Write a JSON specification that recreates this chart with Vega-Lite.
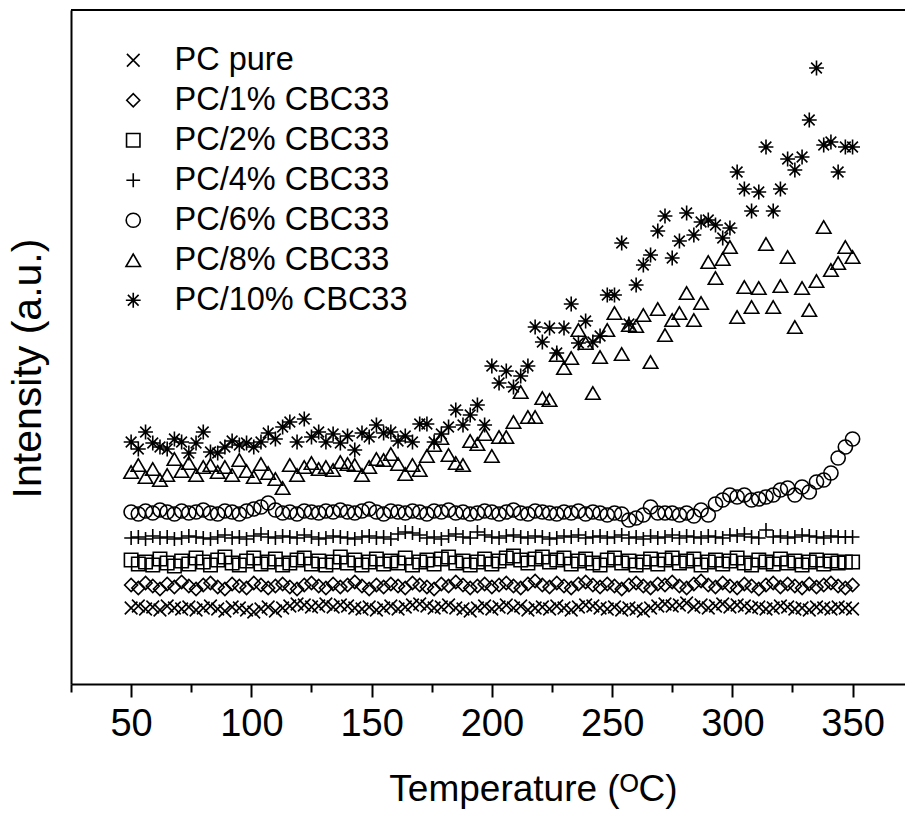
{
"$schema": "https://vega.github.io/schema/vega-lite/v6.json",
"width": 834, "height": 674,
"autosize": {"type": "none"},
"padding": {"left": 71, "top": 10, "right": 0, "bottom": 141},
"background": "white",
"config": {"view": {"stroke": null}, "font": "Liberation Sans"},
"datasets": {
"pts": [
{"s":"PC pure","T":50,"y":76},{"s":"PC pure","T":53,"y":78},{"s":"PC pure","T":56,"y":75},{"s":"PC pure","T":59,"y":77},{"s":"PC pure","T":62,"y":74},{"s":"PC pure","T":65,"y":78},{"s":"PC pure","T":68,"y":76},{"s":"PC pure","T":71,"y":75},{"s":"PC pure","T":74,"y":77},{"s":"PC pure","T":77,"y":74},{"s":"PC pure","T":80,"y":76},{"s":"PC pure","T":83,"y":78},{"s":"PC pure","T":86,"y":75},{"s":"PC pure","T":89,"y":73},{"s":"PC pure","T":92,"y":77},{"s":"PC pure","T":95,"y":76},{"s":"PC pure","T":98,"y":74},{"s":"PC pure","T":101,"y":72},{"s":"PC pure","T":104,"y":75},{"s":"PC pure","T":107,"y":77},{"s":"PC pure","T":110,"y":73},{"s":"PC pure","T":113,"y":76},{"s":"PC pure","T":116,"y":78},{"s":"PC pure","T":119,"y":80},{"s":"PC pure","T":122,"y":79},{"s":"PC pure","T":125,"y":77},{"s":"PC pure","T":128,"y":78},{"s":"PC pure","T":131,"y":80},{"s":"PC pure","T":134,"y":77},{"s":"PC pure","T":137,"y":79},{"s":"PC pure","T":140,"y":78},{"s":"PC pure","T":143,"y":76},{"s":"PC pure","T":146,"y":75},{"s":"PC pure","T":149,"y":77},{"s":"PC pure","T":152,"y":74},{"s":"PC pure","T":155,"y":76},{"s":"PC pure","T":158,"y":78},{"s":"PC pure","T":161,"y":75},{"s":"PC pure","T":164,"y":77},{"s":"PC pure","T":167,"y":79},{"s":"PC pure","T":170,"y":80},{"s":"PC pure","T":173,"y":78},{"s":"PC pure","T":176,"y":76},{"s":"PC pure","T":179,"y":77},{"s":"PC pure","T":182,"y":79},{"s":"PC pure","T":185,"y":76},{"s":"PC pure","T":188,"y":75},{"s":"PC pure","T":191,"y":73},{"s":"PC pure","T":194,"y":76},{"s":"PC pure","T":197,"y":78},{"s":"PC pure","T":200,"y":75},{"s":"PC pure","T":203,"y":77},{"s":"PC pure","T":206,"y":79},{"s":"PC pure","T":209,"y":76},{"s":"PC pure","T":212,"y":78},{"s":"PC pure","T":215,"y":74},{"s":"PC pure","T":218,"y":76},{"s":"PC pure","T":221,"y":77},{"s":"PC pure","T":224,"y":75},{"s":"PC pure","T":227,"y":78},{"s":"PC pure","T":230,"y":76},{"s":"PC pure","T":233,"y":74},{"s":"PC pure","T":236,"y":77},{"s":"PC pure","T":239,"y":79},{"s":"PC pure","T":242,"y":78},{"s":"PC pure","T":245,"y":76},{"s":"PC pure","T":248,"y":75},{"s":"PC pure","T":251,"y":77},{"s":"PC pure","T":254,"y":74},{"s":"PC pure","T":257,"y":76},{"s":"PC pure","T":260,"y":75},{"s":"PC pure","T":263,"y":73},{"s":"PC pure","T":266,"y":76},{"s":"PC pure","T":269,"y":78},{"s":"PC pure","T":272,"y":80},{"s":"PC pure","T":275,"y":78},{"s":"PC pure","T":278,"y":79},{"s":"PC pure","T":281,"y":81},{"s":"PC pure","T":284,"y":77},{"s":"PC pure","T":287,"y":79},{"s":"PC pure","T":290,"y":76},{"s":"PC pure","T":293,"y":78},{"s":"PC pure","T":296,"y":80},{"s":"PC pure","T":299,"y":77},{"s":"PC pure","T":302,"y":79},{"s":"PC pure","T":305,"y":78},{"s":"PC pure","T":308,"y":76},{"s":"PC pure","T":311,"y":77},{"s":"PC pure","T":314,"y":75},{"s":"PC pure","T":317,"y":76},{"s":"PC pure","T":320,"y":78},{"s":"PC pure","T":323,"y":77},{"s":"PC pure","T":326,"y":75},{"s":"PC pure","T":329,"y":76},{"s":"PC pure","T":332,"y":74},{"s":"PC pure","T":335,"y":77},{"s":"PC pure","T":338,"y":76},{"s":"PC pure","T":341,"y":75},{"s":"PC pure","T":344,"y":77},{"s":"PC pure","T":347,"y":76},{"s":"PC pure","T":350,"y":75},
{"s":"PC/1% CBC33","T":50,"y":99},{"s":"PC/1% CBC33","T":53,"y":96},{"s":"PC/1% CBC33","T":56,"y":101},{"s":"PC/1% CBC33","T":59,"y":98},{"s":"PC/1% CBC33","T":62,"y":95},{"s":"PC/1% CBC33","T":65,"y":100},{"s":"PC/1% CBC33","T":68,"y":97},{"s":"PC/1% CBC33","T":71,"y":102},{"s":"PC/1% CBC33","T":74,"y":98},{"s":"PC/1% CBC33","T":77,"y":95},{"s":"PC/1% CBC33","T":80,"y":99},{"s":"PC/1% CBC33","T":83,"y":101},{"s":"PC/1% CBC33","T":86,"y":97},{"s":"PC/1% CBC33","T":89,"y":95},{"s":"PC/1% CBC33","T":92,"y":100},{"s":"PC/1% CBC33","T":95,"y":98},{"s":"PC/1% CBC33","T":98,"y":96},{"s":"PC/1% CBC33","T":101,"y":101},{"s":"PC/1% CBC33","T":104,"y":99},{"s":"PC/1% CBC33","T":107,"y":96},{"s":"PC/1% CBC33","T":110,"y":98},{"s":"PC/1% CBC33","T":113,"y":100},{"s":"PC/1% CBC33","T":116,"y":97},{"s":"PC/1% CBC33","T":119,"y":95},{"s":"PC/1% CBC33","T":122,"y":99},{"s":"PC/1% CBC33","T":125,"y":101},{"s":"PC/1% CBC33","T":128,"y":98},{"s":"PC/1% CBC33","T":131,"y":96},{"s":"PC/1% CBC33","T":134,"y":100},{"s":"PC/1% CBC33","T":137,"y":97},{"s":"PC/1% CBC33","T":140,"y":99},{"s":"PC/1% CBC33","T":143,"y":102},{"s":"PC/1% CBC33","T":146,"y":98},{"s":"PC/1% CBC33","T":149,"y":95},{"s":"PC/1% CBC33","T":152,"y":99},{"s":"PC/1% CBC33","T":155,"y":97},{"s":"PC/1% CBC33","T":158,"y":100},{"s":"PC/1% CBC33","T":161,"y":98},{"s":"PC/1% CBC33","T":164,"y":96},{"s":"PC/1% CBC33","T":167,"y":101},{"s":"PC/1% CBC33","T":170,"y":99},{"s":"PC/1% CBC33","T":173,"y":97},{"s":"PC/1% CBC33","T":176,"y":95},{"s":"PC/1% CBC33","T":179,"y":100},{"s":"PC/1% CBC33","T":182,"y":98},{"s":"PC/1% CBC33","T":185,"y":102},{"s":"PC/1% CBC33","T":188,"y":99},{"s":"PC/1% CBC33","T":191,"y":96},{"s":"PC/1% CBC33","T":194,"y":98},{"s":"PC/1% CBC33","T":197,"y":100},{"s":"PC/1% CBC33","T":200,"y":97},{"s":"PC/1% CBC33","T":203,"y":99},{"s":"PC/1% CBC33","T":206,"y":101},{"s":"PC/1% CBC33","T":209,"y":98},{"s":"PC/1% CBC33","T":212,"y":96},{"s":"PC/1% CBC33","T":215,"y":100},{"s":"PC/1% CBC33","T":218,"y":103},{"s":"PC/1% CBC33","T":221,"y":99},{"s":"PC/1% CBC33","T":224,"y":97},{"s":"PC/1% CBC33","T":227,"y":101},{"s":"PC/1% CBC33","T":230,"y":98},{"s":"PC/1% CBC33","T":233,"y":96},{"s":"PC/1% CBC33","T":236,"y":100},{"s":"PC/1% CBC33","T":239,"y":102},{"s":"PC/1% CBC33","T":242,"y":99},{"s":"PC/1% CBC33","T":245,"y":97},{"s":"PC/1% CBC33","T":248,"y":100},{"s":"PC/1% CBC33","T":251,"y":98},{"s":"PC/1% CBC33","T":254,"y":95},{"s":"PC/1% CBC33","T":257,"y":99},{"s":"PC/1% CBC33","T":260,"y":101},{"s":"PC/1% CBC33","T":263,"y":98},{"s":"PC/1% CBC33","T":266,"y":96},{"s":"PC/1% CBC33","T":269,"y":100},{"s":"PC/1% CBC33","T":272,"y":99},{"s":"PC/1% CBC33","T":275,"y":102},{"s":"PC/1% CBC33","T":278,"y":98},{"s":"PC/1% CBC33","T":281,"y":96},{"s":"PC/1% CBC33","T":284,"y":100},{"s":"PC/1% CBC33","T":287,"y":103},{"s":"PC/1% CBC33","T":290,"y":99},{"s":"PC/1% CBC33","T":293,"y":97},{"s":"PC/1% CBC33","T":296,"y":101},{"s":"PC/1% CBC33","T":299,"y":98},{"s":"PC/1% CBC33","T":302,"y":96},{"s":"PC/1% CBC33","T":305,"y":100},{"s":"PC/1% CBC33","T":308,"y":98},{"s":"PC/1% CBC33","T":311,"y":95},{"s":"PC/1% CBC33","T":314,"y":99},{"s":"PC/1% CBC33","T":317,"y":101},{"s":"PC/1% CBC33","T":320,"y":97},{"s":"PC/1% CBC33","T":323,"y":100},{"s":"PC/1% CBC33","T":326,"y":98},{"s":"PC/1% CBC33","T":329,"y":96},{"s":"PC/1% CBC33","T":332,"y":100},{"s":"PC/1% CBC33","T":335,"y":97},{"s":"PC/1% CBC33","T":338,"y":99},{"s":"PC/1% CBC33","T":341,"y":101},{"s":"PC/1% CBC33","T":344,"y":98},{"s":"PC/1% CBC33","T":347,"y":96},{"s":"PC/1% CBC33","T":350,"y":99},
{"s":"PC/2% CBC33","T":50,"y":124},{"s":"PC/2% CBC33","T":53,"y":120},{"s":"PC/2% CBC33","T":56,"y":122},{"s":"PC/2% CBC33","T":59,"y":119},{"s":"PC/2% CBC33","T":62,"y":125},{"s":"PC/2% CBC33","T":65,"y":121},{"s":"PC/2% CBC33","T":68,"y":118},{"s":"PC/2% CBC33","T":71,"y":123},{"s":"PC/2% CBC33","T":74,"y":120},{"s":"PC/2% CBC33","T":77,"y":126},{"s":"PC/2% CBC33","T":80,"y":122},{"s":"PC/2% CBC33","T":83,"y":119},{"s":"PC/2% CBC33","T":86,"y":124},{"s":"PC/2% CBC33","T":89,"y":127},{"s":"PC/2% CBC33","T":92,"y":121},{"s":"PC/2% CBC33","T":95,"y":119},{"s":"PC/2% CBC33","T":98,"y":123},{"s":"PC/2% CBC33","T":101,"y":126},{"s":"PC/2% CBC33","T":104,"y":120},{"s":"PC/2% CBC33","T":107,"y":122},{"s":"PC/2% CBC33","T":110,"y":125},{"s":"PC/2% CBC33","T":113,"y":119},{"s":"PC/2% CBC33","T":116,"y":121},{"s":"PC/2% CBC33","T":119,"y":124},{"s":"PC/2% CBC33","T":122,"y":126},{"s":"PC/2% CBC33","T":125,"y":120},{"s":"PC/2% CBC33","T":128,"y":123},{"s":"PC/2% CBC33","T":131,"y":119},{"s":"PC/2% CBC33","T":134,"y":122},{"s":"PC/2% CBC33","T":137,"y":127},{"s":"PC/2% CBC33","T":140,"y":121},{"s":"PC/2% CBC33","T":143,"y":124},{"s":"PC/2% CBC33","T":146,"y":119},{"s":"PC/2% CBC33","T":149,"y":122},{"s":"PC/2% CBC33","T":152,"y":125},{"s":"PC/2% CBC33","T":155,"y":120},{"s":"PC/2% CBC33","T":158,"y":123},{"s":"PC/2% CBC33","T":161,"y":121},{"s":"PC/2% CBC33","T":164,"y":126},{"s":"PC/2% CBC33","T":167,"y":119},{"s":"PC/2% CBC33","T":170,"y":122},{"s":"PC/2% CBC33","T":173,"y":124},{"s":"PC/2% CBC33","T":176,"y":120},{"s":"PC/2% CBC33","T":179,"y":125},{"s":"PC/2% CBC33","T":182,"y":127},{"s":"PC/2% CBC33","T":185,"y":121},{"s":"PC/2% CBC33","T":188,"y":123},{"s":"PC/2% CBC33","T":191,"y":119},{"s":"PC/2% CBC33","T":194,"y":122},{"s":"PC/2% CBC33","T":197,"y":125},{"s":"PC/2% CBC33","T":200,"y":120},{"s":"PC/2% CBC33","T":203,"y":123},{"s":"PC/2% CBC33","T":206,"y":126},{"s":"PC/2% CBC33","T":209,"y":128},{"s":"PC/2% CBC33","T":212,"y":124},{"s":"PC/2% CBC33","T":215,"y":121},{"s":"PC/2% CBC33","T":218,"y":125},{"s":"PC/2% CBC33","T":221,"y":127},{"s":"PC/2% CBC33","T":224,"y":122},{"s":"PC/2% CBC33","T":227,"y":124},{"s":"PC/2% CBC33","T":230,"y":126},{"s":"PC/2% CBC33","T":233,"y":120},{"s":"PC/2% CBC33","T":236,"y":123},{"s":"PC/2% CBC33","T":239,"y":125},{"s":"PC/2% CBC33","T":242,"y":121},{"s":"PC/2% CBC33","T":245,"y":119},{"s":"PC/2% CBC33","T":248,"y":124},{"s":"PC/2% CBC33","T":251,"y":126},{"s":"PC/2% CBC33","T":254,"y":121},{"s":"PC/2% CBC33","T":257,"y":123},{"s":"PC/2% CBC33","T":260,"y":119},{"s":"PC/2% CBC33","T":263,"y":122},{"s":"PC/2% CBC33","T":266,"y":125},{"s":"PC/2% CBC33","T":269,"y":120},{"s":"PC/2% CBC33","T":272,"y":124},{"s":"PC/2% CBC33","T":275,"y":126},{"s":"PC/2% CBC33","T":278,"y":121},{"s":"PC/2% CBC33","T":281,"y":123},{"s":"PC/2% CBC33","T":284,"y":125},{"s":"PC/2% CBC33","T":287,"y":119},{"s":"PC/2% CBC33","T":290,"y":122},{"s":"PC/2% CBC33","T":293,"y":124},{"s":"PC/2% CBC33","T":296,"y":120},{"s":"PC/2% CBC33","T":299,"y":123},{"s":"PC/2% CBC33","T":302,"y":126},{"s":"PC/2% CBC33","T":305,"y":121},{"s":"PC/2% CBC33","T":308,"y":119},{"s":"PC/2% CBC33","T":311,"y":124},{"s":"PC/2% CBC33","T":314,"y":122},{"s":"PC/2% CBC33","T":317,"y":120},{"s":"PC/2% CBC33","T":320,"y":125},{"s":"PC/2% CBC33","T":323,"y":121},{"s":"PC/2% CBC33","T":326,"y":123},{"s":"PC/2% CBC33","T":329,"y":119},{"s":"PC/2% CBC33","T":332,"y":122},{"s":"PC/2% CBC33","T":335,"y":124},{"s":"PC/2% CBC33","T":338,"y":120},{"s":"PC/2% CBC33","T":341,"y":123},{"s":"PC/2% CBC33","T":344,"y":121},{"s":"PC/2% CBC33","T":347,"y":122},{"s":"PC/2% CBC33","T":350,"y":122},
{"s":"PC/4% CBC33","T":50,"y":146},{"s":"PC/4% CBC33","T":53,"y":147},{"s":"PC/4% CBC33","T":56,"y":145},{"s":"PC/4% CBC33","T":59,"y":148},{"s":"PC/4% CBC33","T":62,"y":146},{"s":"PC/4% CBC33","T":65,"y":147},{"s":"PC/4% CBC33","T":68,"y":145},{"s":"PC/4% CBC33","T":71,"y":146},{"s":"PC/4% CBC33","T":74,"y":148},{"s":"PC/4% CBC33","T":77,"y":147},{"s":"PC/4% CBC33","T":80,"y":146},{"s":"PC/4% CBC33","T":83,"y":145},{"s":"PC/4% CBC33","T":86,"y":147},{"s":"PC/4% CBC33","T":89,"y":149},{"s":"PC/4% CBC33","T":92,"y":146},{"s":"PC/4% CBC33","T":95,"y":147},{"s":"PC/4% CBC33","T":98,"y":145},{"s":"PC/4% CBC33","T":101,"y":148},{"s":"PC/4% CBC33","T":104,"y":150},{"s":"PC/4% CBC33","T":107,"y":147},{"s":"PC/4% CBC33","T":110,"y":146},{"s":"PC/4% CBC33","T":113,"y":148},{"s":"PC/4% CBC33","T":116,"y":147},{"s":"PC/4% CBC33","T":119,"y":146},{"s":"PC/4% CBC33","T":122,"y":149},{"s":"PC/4% CBC33","T":125,"y":147},{"s":"PC/4% CBC33","T":128,"y":145},{"s":"PC/4% CBC33","T":131,"y":146},{"s":"PC/4% CBC33","T":134,"y":148},{"s":"PC/4% CBC33","T":137,"y":147},{"s":"PC/4% CBC33","T":140,"y":146},{"s":"PC/4% CBC33","T":143,"y":145},{"s":"PC/4% CBC33","T":146,"y":147},{"s":"PC/4% CBC33","T":149,"y":148},{"s":"PC/4% CBC33","T":152,"y":146},{"s":"PC/4% CBC33","T":155,"y":147},{"s":"PC/4% CBC33","T":158,"y":145},{"s":"PC/4% CBC33","T":161,"y":150},{"s":"PC/4% CBC33","T":164,"y":152},{"s":"PC/4% CBC33","T":167,"y":151},{"s":"PC/4% CBC33","T":170,"y":149},{"s":"PC/4% CBC33","T":173,"y":146},{"s":"PC/4% CBC33","T":176,"y":147},{"s":"PC/4% CBC33","T":179,"y":145},{"s":"PC/4% CBC33","T":182,"y":148},{"s":"PC/4% CBC33","T":185,"y":150},{"s":"PC/4% CBC33","T":188,"y":147},{"s":"PC/4% CBC33","T":191,"y":146},{"s":"PC/4% CBC33","T":194,"y":152},{"s":"PC/4% CBC33","T":197,"y":149},{"s":"PC/4% CBC33","T":200,"y":147},{"s":"PC/4% CBC33","T":203,"y":146},{"s":"PC/4% CBC33","T":206,"y":148},{"s":"PC/4% CBC33","T":209,"y":149},{"s":"PC/4% CBC33","T":212,"y":147},{"s":"PC/4% CBC33","T":215,"y":146},{"s":"PC/4% CBC33","T":218,"y":148},{"s":"PC/4% CBC33","T":221,"y":147},{"s":"PC/4% CBC33","T":224,"y":145},{"s":"PC/4% CBC33","T":227,"y":146},{"s":"PC/4% CBC33","T":230,"y":148},{"s":"PC/4% CBC33","T":233,"y":147},{"s":"PC/4% CBC33","T":236,"y":149},{"s":"PC/4% CBC33","T":239,"y":146},{"s":"PC/4% CBC33","T":242,"y":147},{"s":"PC/4% CBC33","T":245,"y":148},{"s":"PC/4% CBC33","T":248,"y":146},{"s":"PC/4% CBC33","T":251,"y":147},{"s":"PC/4% CBC33","T":254,"y":149},{"s":"PC/4% CBC33","T":257,"y":146},{"s":"PC/4% CBC33","T":260,"y":147},{"s":"PC/4% CBC33","T":263,"y":145},{"s":"PC/4% CBC33","T":266,"y":148},{"s":"PC/4% CBC33","T":269,"y":146},{"s":"PC/4% CBC33","T":272,"y":147},{"s":"PC/4% CBC33","T":275,"y":149},{"s":"PC/4% CBC33","T":278,"y":146},{"s":"PC/4% CBC33","T":281,"y":148},{"s":"PC/4% CBC33","T":284,"y":147},{"s":"PC/4% CBC33","T":287,"y":146},{"s":"PC/4% CBC33","T":290,"y":148},{"s":"PC/4% CBC33","T":293,"y":147},{"s":"PC/4% CBC33","T":296,"y":146},{"s":"PC/4% CBC33","T":299,"y":149},{"s":"PC/4% CBC33","T":302,"y":148},{"s":"PC/4% CBC33","T":305,"y":150},{"s":"PC/4% CBC33","T":308,"y":147},{"s":"PC/4% CBC33","T":311,"y":146},{"s":"PC/4% CBC33","T":314,"y":154},{"s":"PC/4% CBC33","T":317,"y":147},{"s":"PC/4% CBC33","T":320,"y":148},{"s":"PC/4% CBC33","T":323,"y":146},{"s":"PC/4% CBC33","T":326,"y":147},{"s":"PC/4% CBC33","T":329,"y":149},{"s":"PC/4% CBC33","T":332,"y":148},{"s":"PC/4% CBC33","T":335,"y":147},{"s":"PC/4% CBC33","T":338,"y":146},{"s":"PC/4% CBC33","T":341,"y":148},{"s":"PC/4% CBC33","T":344,"y":147},{"s":"PC/4% CBC33","T":347,"y":147},{"s":"PC/4% CBC33","T":350,"y":147},
{"s":"PC/6% CBC33","T":50,"y":172},{"s":"PC/6% CBC33","T":53,"y":170},{"s":"PC/6% CBC33","T":56,"y":173},{"s":"PC/6% CBC33","T":59,"y":171},{"s":"PC/6% CBC33","T":62,"y":174},{"s":"PC/6% CBC33","T":65,"y":172},{"s":"PC/6% CBC33","T":68,"y":170},{"s":"PC/6% CBC33","T":71,"y":173},{"s":"PC/6% CBC33","T":74,"y":171},{"s":"PC/6% CBC33","T":77,"y":172},{"s":"PC/6% CBC33","T":80,"y":174},{"s":"PC/6% CBC33","T":83,"y":171},{"s":"PC/6% CBC33","T":86,"y":170},{"s":"PC/6% CBC33","T":89,"y":173},{"s":"PC/6% CBC33","T":92,"y":172},{"s":"PC/6% CBC33","T":95,"y":170},{"s":"PC/6% CBC33","T":98,"y":173},{"s":"PC/6% CBC33","T":101,"y":175},{"s":"PC/6% CBC33","T":104,"y":177},{"s":"PC/6% CBC33","T":107,"y":181},{"s":"PC/6% CBC33","T":110,"y":174},{"s":"PC/6% CBC33","T":113,"y":171},{"s":"PC/6% CBC33","T":116,"y":172},{"s":"PC/6% CBC33","T":119,"y":170},{"s":"PC/6% CBC33","T":122,"y":173},{"s":"PC/6% CBC33","T":125,"y":172},{"s":"PC/6% CBC33","T":128,"y":171},{"s":"PC/6% CBC33","T":131,"y":173},{"s":"PC/6% CBC33","T":134,"y":172},{"s":"PC/6% CBC33","T":137,"y":174},{"s":"PC/6% CBC33","T":140,"y":172},{"s":"PC/6% CBC33","T":143,"y":171},{"s":"PC/6% CBC33","T":146,"y":173},{"s":"PC/6% CBC33","T":149,"y":175},{"s":"PC/6% CBC33","T":152,"y":172},{"s":"PC/6% CBC33","T":155,"y":170},{"s":"PC/6% CBC33","T":158,"y":173},{"s":"PC/6% CBC33","T":161,"y":172},{"s":"PC/6% CBC33","T":164,"y":171},{"s":"PC/6% CBC33","T":167,"y":173},{"s":"PC/6% CBC33","T":170,"y":172},{"s":"PC/6% CBC33","T":173,"y":170},{"s":"PC/6% CBC33","T":176,"y":173},{"s":"PC/6% CBC33","T":179,"y":172},{"s":"PC/6% CBC33","T":182,"y":174},{"s":"PC/6% CBC33","T":185,"y":171},{"s":"PC/6% CBC33","T":188,"y":172},{"s":"PC/6% CBC33","T":191,"y":170},{"s":"PC/6% CBC33","T":194,"y":171},{"s":"PC/6% CBC33","T":197,"y":173},{"s":"PC/6% CBC33","T":200,"y":172},{"s":"PC/6% CBC33","T":203,"y":170},{"s":"PC/6% CBC33","T":206,"y":172},{"s":"PC/6% CBC33","T":209,"y":174},{"s":"PC/6% CBC33","T":212,"y":171},{"s":"PC/6% CBC33","T":215,"y":170},{"s":"PC/6% CBC33","T":218,"y":173},{"s":"PC/6% CBC33","T":221,"y":172},{"s":"PC/6% CBC33","T":224,"y":171},{"s":"PC/6% CBC33","T":227,"y":170},{"s":"PC/6% CBC33","T":230,"y":172},{"s":"PC/6% CBC33","T":233,"y":171},{"s":"PC/6% CBC33","T":236,"y":173},{"s":"PC/6% CBC33","T":239,"y":170},{"s":"PC/6% CBC33","T":242,"y":172},{"s":"PC/6% CBC33","T":245,"y":171},{"s":"PC/6% CBC33","T":248,"y":169},{"s":"PC/6% CBC33","T":251,"y":171},{"s":"PC/6% CBC33","T":254,"y":170},{"s":"PC/6% CBC33","T":257,"y":164},{"s":"PC/6% CBC33","T":260,"y":166},{"s":"PC/6% CBC33","T":263,"y":169},{"s":"PC/6% CBC33","T":266,"y":177},{"s":"PC/6% CBC33","T":269,"y":171},{"s":"PC/6% CBC33","T":272,"y":171},{"s":"PC/6% CBC33","T":275,"y":171},{"s":"PC/6% CBC33","T":278,"y":169},{"s":"PC/6% CBC33","T":281,"y":171},{"s":"PC/6% CBC33","T":284,"y":168},{"s":"PC/6% CBC33","T":287,"y":174},{"s":"PC/6% CBC33","T":290,"y":169},{"s":"PC/6% CBC33","T":293,"y":180},{"s":"PC/6% CBC33","T":296,"y":184},{"s":"PC/6% CBC33","T":299,"y":189},{"s":"PC/6% CBC33","T":302,"y":187},{"s":"PC/6% CBC33","T":305,"y":189},{"s":"PC/6% CBC33","T":308,"y":184},{"s":"PC/6% CBC33","T":311,"y":185},{"s":"PC/6% CBC33","T":314,"y":187},{"s":"PC/6% CBC33","T":317,"y":189},{"s":"PC/6% CBC33","T":320,"y":194},{"s":"PC/6% CBC33","T":323,"y":196},{"s":"PC/6% CBC33","T":326,"y":189},{"s":"PC/6% CBC33","T":329,"y":197},{"s":"PC/6% CBC33","T":332,"y":192},{"s":"PC/6% CBC33","T":335,"y":202},{"s":"PC/6% CBC33","T":338,"y":204},{"s":"PC/6% CBC33","T":341,"y":211},{"s":"PC/6% CBC33","T":344,"y":226},{"s":"PC/6% CBC33","T":347,"y":237},{"s":"PC/6% CBC33","T":350,"y":245},
{"s":"PC/8% CBC33","T":50,"y":212},{"s":"PC/8% CBC33","T":53,"y":219},{"s":"PC/8% CBC33","T":56,"y":207},{"s":"PC/8% CBC33","T":59,"y":215},{"s":"PC/8% CBC33","T":62,"y":204},{"s":"PC/8% CBC33","T":65,"y":209},{"s":"PC/8% CBC33","T":68,"y":225},{"s":"PC/8% CBC33","T":71,"y":213},{"s":"PC/8% CBC33","T":74,"y":221},{"s":"PC/8% CBC33","T":77,"y":209},{"s":"PC/8% CBC33","T":80,"y":217},{"s":"PC/8% CBC33","T":83,"y":219},{"s":"PC/8% CBC33","T":86,"y":212},{"s":"PC/8% CBC33","T":89,"y":217},{"s":"PC/8% CBC33","T":92,"y":209},{"s":"PC/8% CBC33","T":95,"y":224},{"s":"PC/8% CBC33","T":98,"y":213},{"s":"PC/8% CBC33","T":101,"y":207},{"s":"PC/8% CBC33","T":104,"y":220},{"s":"PC/8% CBC33","T":107,"y":211},{"s":"PC/8% CBC33","T":110,"y":205},{"s":"PC/8% CBC33","T":113,"y":196},{"s":"PC/8% CBC33","T":116,"y":219},{"s":"PC/8% CBC33","T":119,"y":209},{"s":"PC/8% CBC33","T":122,"y":217},{"s":"PC/8% CBC33","T":125,"y":221},{"s":"PC/8% CBC33","T":128,"y":215},{"s":"PC/8% CBC33","T":131,"y":217},{"s":"PC/8% CBC33","T":134,"y":214},{"s":"PC/8% CBC33","T":137,"y":222},{"s":"PC/8% CBC33","T":140,"y":220},{"s":"PC/8% CBC33","T":143,"y":219},{"s":"PC/8% CBC33","T":146,"y":209},{"s":"PC/8% CBC33","T":149,"y":217},{"s":"PC/8% CBC33","T":152,"y":225},{"s":"PC/8% CBC33","T":155,"y":224},{"s":"PC/8% CBC33","T":158,"y":230},{"s":"PC/8% CBC33","T":161,"y":220},{"s":"PC/8% CBC33","T":164,"y":210},{"s":"PC/8% CBC33","T":167,"y":219},{"s":"PC/8% CBC33","T":170,"y":214},{"s":"PC/8% CBC33","T":173,"y":228},{"s":"PC/8% CBC33","T":176,"y":239},{"s":"PC/8% CBC33","T":179,"y":246},{"s":"PC/8% CBC33","T":182,"y":229},{"s":"PC/8% CBC33","T":185,"y":221},{"s":"PC/8% CBC33","T":188,"y":219},{"s":"PC/8% CBC33","T":191,"y":243},{"s":"PC/8% CBC33","T":194,"y":240},{"s":"PC/8% CBC33","T":197,"y":250},{"s":"PC/8% CBC33","T":200,"y":228},{"s":"PC/8% CBC33","T":203,"y":247},{"s":"PC/8% CBC33","T":206,"y":247},{"s":"PC/8% CBC33","T":209,"y":262},{"s":"PC/8% CBC33","T":212,"y":292},{"s":"PC/8% CBC33","T":215,"y":267},{"s":"PC/8% CBC33","T":218,"y":267},{"s":"PC/8% CBC33","T":221,"y":286},{"s":"PC/8% CBC33","T":224,"y":284},{"s":"PC/8% CBC33","T":227,"y":329},{"s":"PC/8% CBC33","T":230,"y":316},{"s":"PC/8% CBC33","T":233,"y":326},{"s":"PC/8% CBC33","T":236,"y":354},{"s":"PC/8% CBC33","T":239,"y":341},{"s":"PC/8% CBC33","T":242,"y":291},{"s":"PC/8% CBC33","T":245,"y":327},{"s":"PC/8% CBC33","T":248,"y":354},{"s":"PC/8% CBC33","T":251,"y":371},{"s":"PC/8% CBC33","T":254,"y":330},{"s":"PC/8% CBC33","T":257,"y":359},{"s":"PC/8% CBC33","T":260,"y":358},{"s":"PC/8% CBC33","T":263,"y":369},{"s":"PC/8% CBC33","T":266,"y":322},{"s":"PC/8% CBC33","T":269,"y":375},{"s":"PC/8% CBC33","T":272,"y":349},{"s":"PC/8% CBC33","T":275,"y":364},{"s":"PC/8% CBC33","T":278,"y":371},{"s":"PC/8% CBC33","T":281,"y":391},{"s":"PC/8% CBC33","T":284,"y":364},{"s":"PC/8% CBC33","T":287,"y":381},{"s":"PC/8% CBC33","T":290,"y":422},{"s":"PC/8% CBC33","T":293,"y":406},{"s":"PC/8% CBC33","T":296,"y":425},{"s":"PC/8% CBC33","T":299,"y":437},{"s":"PC/8% CBC33","T":302,"y":367},{"s":"PC/8% CBC33","T":305,"y":397},{"s":"PC/8% CBC33","T":308,"y":377},{"s":"PC/8% CBC33","T":311,"y":396},{"s":"PC/8% CBC33","T":314,"y":440},{"s":"PC/8% CBC33","T":317,"y":377},{"s":"PC/8% CBC33","T":320,"y":398},{"s":"PC/8% CBC33","T":323,"y":427},{"s":"PC/8% CBC33","T":326,"y":357},{"s":"PC/8% CBC33","T":329,"y":396},{"s":"PC/8% CBC33","T":332,"y":374},{"s":"PC/8% CBC33","T":335,"y":403},{"s":"PC/8% CBC33","T":338,"y":457},{"s":"PC/8% CBC33","T":341,"y":414},{"s":"PC/8% CBC33","T":344,"y":421},{"s":"PC/8% CBC33","T":347,"y":437},{"s":"PC/8% CBC33","T":350,"y":427},
{"s":"PC/10% CBC33","T":50,"y":242},{"s":"PC/10% CBC33","T":53,"y":235},{"s":"PC/10% CBC33","T":56,"y":252},{"s":"PC/10% CBC33","T":59,"y":241},{"s":"PC/10% CBC33","T":62,"y":237},{"s":"PC/10% CBC33","T":65,"y":235},{"s":"PC/10% CBC33","T":68,"y":245},{"s":"PC/10% CBC33","T":71,"y":242},{"s":"PC/10% CBC33","T":74,"y":231},{"s":"PC/10% CBC33","T":77,"y":241},{"s":"PC/10% CBC33","T":80,"y":252},{"s":"PC/10% CBC33","T":83,"y":232},{"s":"PC/10% CBC33","T":86,"y":231},{"s":"PC/10% CBC33","T":89,"y":237},{"s":"PC/10% CBC33","T":92,"y":243},{"s":"PC/10% CBC33","T":95,"y":239},{"s":"PC/10% CBC33","T":98,"y":241},{"s":"PC/10% CBC33","T":101,"y":237},{"s":"PC/10% CBC33","T":104,"y":242},{"s":"PC/10% CBC33","T":107,"y":251},{"s":"PC/10% CBC33","T":110,"y":245},{"s":"PC/10% CBC33","T":113,"y":257},{"s":"PC/10% CBC33","T":116,"y":262},{"s":"PC/10% CBC33","T":119,"y":242},{"s":"PC/10% CBC33","T":122,"y":265},{"s":"PC/10% CBC33","T":125,"y":247},{"s":"PC/10% CBC33","T":128,"y":252},{"s":"PC/10% CBC33","T":131,"y":242},{"s":"PC/10% CBC33","T":134,"y":250},{"s":"PC/10% CBC33","T":137,"y":241},{"s":"PC/10% CBC33","T":140,"y":248},{"s":"PC/10% CBC33","T":143,"y":234},{"s":"PC/10% CBC33","T":146,"y":251},{"s":"PC/10% CBC33","T":149,"y":247},{"s":"PC/10% CBC33","T":152,"y":259},{"s":"PC/10% CBC33","T":155,"y":251},{"s":"PC/10% CBC33","T":158,"y":252},{"s":"PC/10% CBC33","T":161,"y":243},{"s":"PC/10% CBC33","T":164,"y":248},{"s":"PC/10% CBC33","T":167,"y":242},{"s":"PC/10% CBC33","T":170,"y":260},{"s":"PC/10% CBC33","T":173,"y":260},{"s":"PC/10% CBC33","T":176,"y":242},{"s":"PC/10% CBC33","T":179,"y":250},{"s":"PC/10% CBC33","T":182,"y":257},{"s":"PC/10% CBC33","T":185,"y":274},{"s":"PC/10% CBC33","T":188,"y":259},{"s":"PC/10% CBC33","T":191,"y":269},{"s":"PC/10% CBC33","T":194,"y":279},{"s":"PC/10% CBC33","T":197,"y":259},{"s":"PC/10% CBC33","T":200,"y":318},{"s":"PC/10% CBC33","T":203,"y":301},{"s":"PC/10% CBC33","T":206,"y":313},{"s":"PC/10% CBC33","T":209,"y":297},{"s":"PC/10% CBC33","T":212,"y":308},{"s":"PC/10% CBC33","T":215,"y":318},{"s":"PC/10% CBC33","T":218,"y":357},{"s":"PC/10% CBC33","T":221,"y":342},{"s":"PC/10% CBC33","T":224,"y":356},{"s":"PC/10% CBC33","T":227,"y":331},{"s":"PC/10% CBC33","T":230,"y":356},{"s":"PC/10% CBC33","T":233,"y":380},{"s":"PC/10% CBC33","T":236,"y":341},{"s":"PC/10% CBC33","T":239,"y":363},{"s":"PC/10% CBC33","T":242,"y":342},{"s":"PC/10% CBC33","T":245,"y":348},{"s":"PC/10% CBC33","T":248,"y":389},{"s":"PC/10% CBC33","T":251,"y":389},{"s":"PC/10% CBC33","T":254,"y":441},{"s":"PC/10% CBC33","T":257,"y":360},{"s":"PC/10% CBC33","T":260,"y":399},{"s":"PC/10% CBC33","T":263,"y":419},{"s":"PC/10% CBC33","T":266,"y":429},{"s":"PC/10% CBC33","T":269,"y":453},{"s":"PC/10% CBC33","T":272,"y":468},{"s":"PC/10% CBC33","T":275,"y":426},{"s":"PC/10% CBC33","T":278,"y":443},{"s":"PC/10% CBC33","T":281,"y":471},{"s":"PC/10% CBC33","T":284,"y":449},{"s":"PC/10% CBC33","T":287,"y":462},{"s":"PC/10% CBC33","T":290,"y":464},{"s":"PC/10% CBC33","T":293,"y":459},{"s":"PC/10% CBC33","T":296,"y":446},{"s":"PC/10% CBC33","T":299,"y":456},{"s":"PC/10% CBC33","T":302,"y":512},{"s":"PC/10% CBC33","T":305,"y":495},{"s":"PC/10% CBC33","T":308,"y":473},{"s":"PC/10% CBC33","T":311,"y":492},{"s":"PC/10% CBC33","T":314,"y":537},{"s":"PC/10% CBC33","T":317,"y":473},{"s":"PC/10% CBC33","T":320,"y":495},{"s":"PC/10% CBC33","T":323,"y":525},{"s":"PC/10% CBC33","T":326,"y":514},{"s":"PC/10% CBC33","T":329,"y":527},{"s":"PC/10% CBC33","T":332,"y":564},{"s":"PC/10% CBC33","T":335,"y":616},{"s":"PC/10% CBC33","T":338,"y":539},{"s":"PC/10% CBC33","T":341,"y":542},{"s":"PC/10% CBC33","T":344,"y":512},{"s":"PC/10% CBC33","T":347,"y":537},{"s":"PC/10% CBC33","T":350,"y":537}
],
"frame": [{"edge": "top", "y": 674}]
},
"layer": [
{
"data": {"name": "pts"},
"mark": {"type": "point", "filled": false, "color": "black", "opacity": 1, "strokeWidth": 1.6},
"encoding": {
"x": {"field": "T", "type": "quantitative",
 "scale": {"domain": [25, 371.8], "nice": false, "zero": false},
 "axis": {"values": [25,50,75,100,125,150,175,200,225,250,275,300,325,350],
  "labelExpr": "datum.value % 50 === 0 ? datum.label : ''",
  "tickSize": {"condition": {"test": "datum.value % 50 === 0", "value": 13}, "value": 8},
  "tickWidth": 2, "tickColor": "black", "domainColor": "black", "domainWidth": 2,
  "labelFontSize": 38, "labelColor": "black", "labelPadding": 8, "labelFont": "Liberation Sans",
  "labelFlush": false, "labelOverlap": false, "grid": false,
  "title": "Temperature (ᴼC)", "titleFontSize": 37, "titleFontWeight": "normal", "titleColor": "black",
  "titleFont": "Liberation Sans", "titleX": 462, "titleY": 116, "titleBaseline": "alphabetic", "titleAlign": "center"}},
"y": {"field": "y", "type": "quantitative",
 "scale": {"domain": [0, 674], "nice": false, "zero": false},
 "axis": {"ticks": false, "labels": false, "grid": false, "domainColor": "black", "domainWidth": 2,
  "title": "Intensity (a.u.)", "titleFontSize": 41, "titleFontWeight": "normal", "titleColor": "black",
  "titleFont": "Liberation Sans", "titleAngle": -90, "titleX": -31, "titleY": 358, "titleAlign": "center", "titleBaseline": "alphabetic"}},
"shape": {"field": "s", "type": "nominal",
 "scale": {"domain": ["PC pure","PC/1% CBC33","PC/2% CBC33","PC/4% CBC33","PC/6% CBC33","PC/8% CBC33","PC/10% CBC33"],
  "range": ["M-1,-1L1,1M-1,1L1,-1","diamond","square","M-1,0H1M0,-1V1","circle","triangle-up","M-1,0H1M0,-1V1M-0.72,-0.72L0.72,0.72M-0.72,0.72L0.72,-0.72"]},
 "legend": {"title": null, "orient": "none", "legendX": 46, "legendY": 34, "padding": 0,
  "labelFontSize": 32.5, "labelFont": "Liberation Sans", "labelColor": "black", "labelOffset": 25,
  "symbolStrokeColor": "black", "symbolStrokeWidth": 1.6, "rowPadding": 7, "labelLimit": 400}},
"size": {"field": "s", "type": "nominal",
 "scale": {"domain": ["PC pure","PC/1% CBC33","PC/2% CBC33","PC/4% CBC33","PC/6% CBC33","PC/8% CBC33","PC/10% CBC33"],
  "range": [160,220,144,170,170,300,320]},
 "legend": {"title": null, "orient": "none", "legendX": 46, "legendY": 34, "padding": 0,
  "labelFontSize": 32.5, "labelFont": "Liberation Sans", "labelColor": "black", "labelOffset": 25,
  "symbolStrokeColor": "black", "symbolStrokeWidth": 1.6, "rowPadding": 7, "labelLimit": 400}}
}
},
{
"data": {"name": "frame"},
"mark": {"type": "rule", "color": "black", "strokeWidth": 2},
"encoding": {"y": {"field": "y", "type": "quantitative"}}
}
]
}
